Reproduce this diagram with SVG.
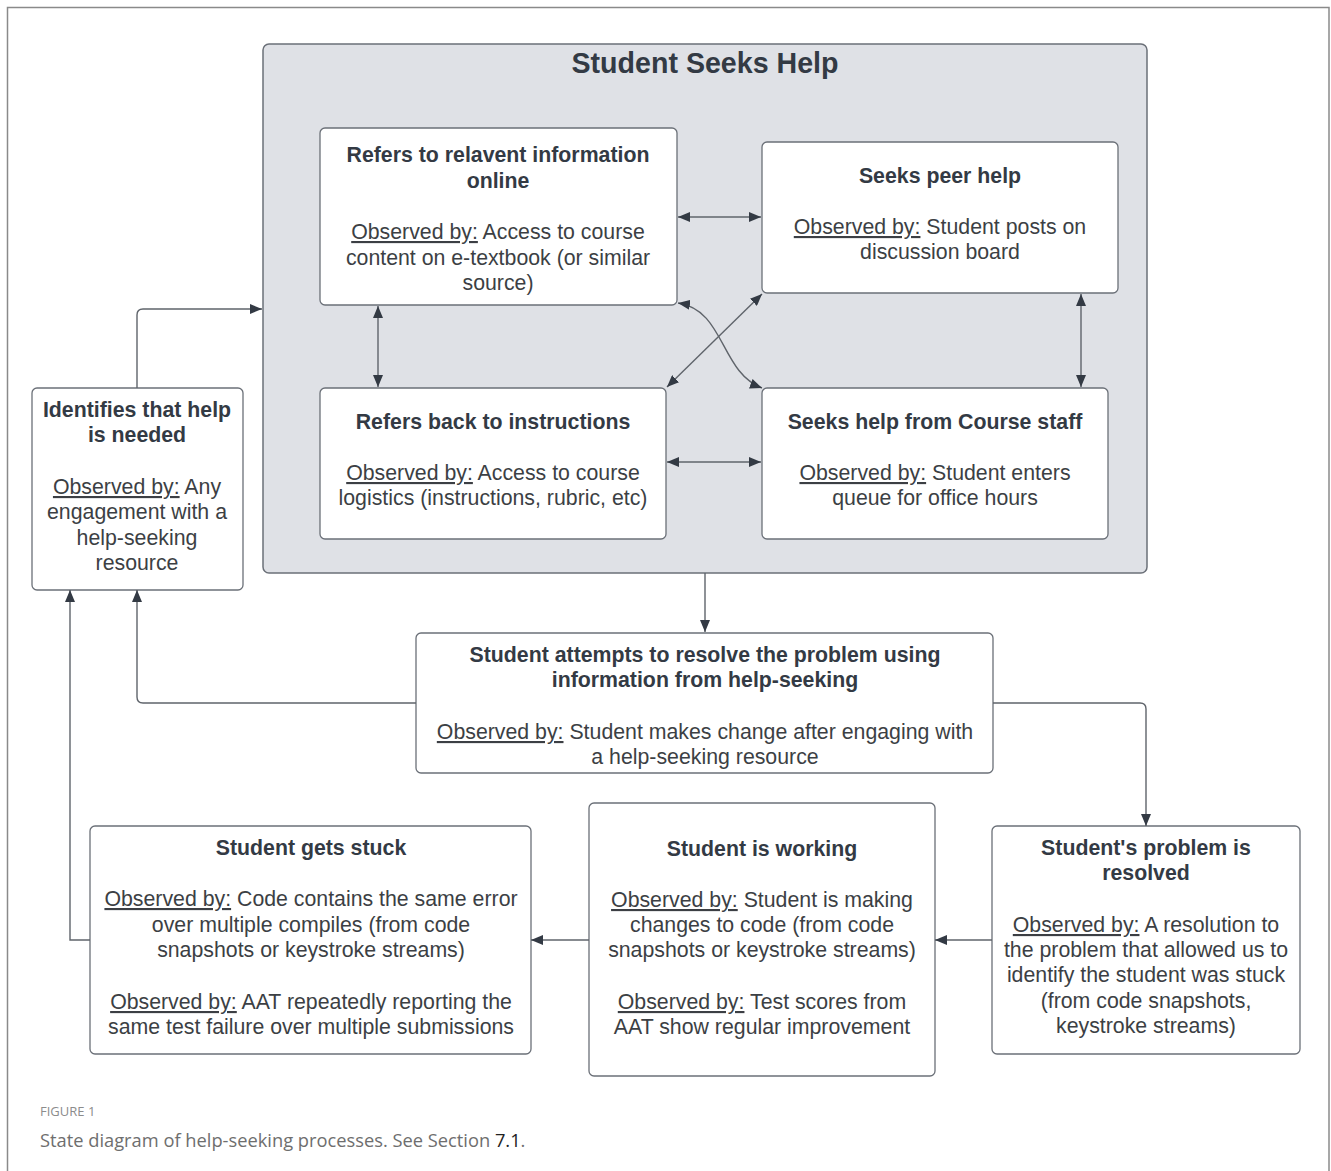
<svg xmlns="http://www.w3.org/2000/svg" width="1331" height="1171" viewBox="0 0 1331 1171">
<defs>
<marker id="ah" viewBox="0 0 12 10" refX="12" refY="5" markerWidth="12" markerHeight="10" markerUnits="userSpaceOnUse" orient="auto-start-reverse">
<path d="M0,0 L12,5 L0,10 z" fill="#333a44"/>
</marker>
<style>
.box{fill:#ffffff;stroke:#6b7078;stroke-width:1.3}
.grp{fill:#dfe1e6;stroke:#6b7078;stroke-width:1.5}
.t{font-family:"Liberation Sans",Arial,sans-serif;font-size:21.3px;fill:#3c3f44;text-anchor:middle}
.b{font-weight:bold;fill:#333a44}
.h{font-size:28.6px}
.u{text-decoration:underline}
.c{fill:none;stroke:#5f646b;stroke-width:1.4}
</style>
</defs>
<rect x="0" y="0" width="1331" height="1171" fill="#ffffff"/>
<path d="M7.5,1171 V7.5 H1329 V1171" fill="none" stroke="#8a8a8a" stroke-width="1.5"/>

<g id="student-seeks-help">
<rect class="grp" x="263" y="44" width="884" height="529" rx="6"/>
<text class="t b h" x="705" y="73">Student Seeks Help</text>
</g>

<g id="refers-online">
<rect class="box" x="320" y="128" width="357" height="177" rx="5"/>
<text class="t b" x="498" y="162">Refers to relavent information</text>
<text class="t b" x="498" y="188">online</text>
<text class="t" x="498" y="239"><tspan class="u">Observed by:</tspan> Access to course</text>
<text class="t" x="498" y="265">content on e-textbook (or similar</text>
<text class="t" x="498" y="290">source)</text>
</g>

<g id="seeks-peer-help">
<rect class="box" x="762" y="142" width="356" height="151" rx="5"/>
<text class="t b" x="940" y="183">Seeks peer help</text>
<text class="t" x="940" y="234"><tspan class="u">Observed by:</tspan> Student posts on</text>
<text class="t" x="940" y="259">discussion board</text>
</g>

<g id="refers-instructions">
<rect class="box" x="320" y="388" width="346" height="151" rx="5"/>
<text class="t b" x="493" y="429">Refers back to instructions</text>
<text class="t" x="493" y="480"><tspan class="u">Observed by:</tspan> Access to course</text>
<text class="t" x="493" y="505">logistics (instructions, rubric, etc)</text>
</g>

<g id="seeks-staff">
<rect class="box" x="762" y="388" width="346" height="151" rx="5"/>
<text class="t b" x="935" y="429">Seeks help from Course staff</text>
<text class="t" x="935" y="480"><tspan class="u">Observed by:</tspan> Student enters</text>
<text class="t" x="935" y="505">queue for office hours</text>
</g>

<g id="identifies">
<rect class="box" x="32" y="388" width="211" height="202" rx="5"/>
<text class="t b" x="137" y="417">Identifies that help</text>
<text class="t b" x="137" y="442">is needed</text>
<text class="t" x="137" y="494"><tspan class="u">Observed by:</tspan> Any</text>
<text class="t" x="137" y="519">engagement with a</text>
<text class="t" x="137" y="545">help-seeking</text>
<text class="t" x="137" y="570">resource</text>
</g>

<g id="attempts">
<rect class="box" x="416" y="633" width="577" height="140" rx="5"/>
<text class="t b" x="705" y="662">Student attempts to resolve the problem using</text>
<text class="t b" x="705" y="687">information from help-seeking</text>
<text class="t" x="705" y="739"><tspan class="u">Observed by:</tspan> Student makes change after engaging with</text>
<text class="t" x="705" y="764">a help-seeking resource</text>
</g>

<g id="resolved">
<rect class="box" x="992" y="826" width="308" height="228" rx="5"/>
<text class="t b" x="1146" y="855">Student's problem is</text>
<text class="t b" x="1146" y="880">resolved</text>
<text class="t" x="1146" y="932"><tspan class="u">Observed by:</tspan> A resolution to</text>
<text class="t" x="1146" y="957">the problem that allowed us to</text>
<text class="t" x="1146" y="982">identify the student was stuck</text>
<text class="t" x="1146" y="1008">(from code snapshots,</text>
<text class="t" x="1146" y="1033">keystroke streams)</text>
</g>

<g id="working">
<rect class="box" x="589" y="803" width="346" height="273" rx="5"/>
<text class="t b" x="762" y="856">Student is working</text>
<text class="t" x="762" y="907"><tspan class="u">Observed by:</tspan> Student is making</text>
<text class="t" x="762" y="932">changes to code (from code</text>
<text class="t" x="762" y="957">snapshots or keystroke streams)</text>
<text class="t" x="762" y="1009"><tspan class="u">Observed by:</tspan> Test scores from</text>
<text class="t" x="762" y="1034">AAT show regular improvement</text>
</g>

<g id="stuck">
<rect class="box" x="90" y="826" width="441" height="228" rx="5"/>
<text class="t b" x="311" y="855">Student gets stuck</text>
<text class="t" x="311" y="906"><tspan class="u">Observed by:</tspan> Code contains the same error</text>
<text class="t" x="311" y="932">over multiple compiles (from code</text>
<text class="t" x="311" y="957">snapshots or keystroke streams)</text>
<text class="t" x="311" y="1009"><tspan class="u">Observed by:</tspan> AAT repeatedly reporting the</text>
<text class="t" x="311" y="1034">same test failure over multiple submissions</text>
</g>

<g id="connectors">
<path class="c" d="M678,217 H761" marker-start="url(#ah)" marker-end="url(#ah)"/>
<path class="c" d="M378,306 V387" marker-start="url(#ah)" marker-end="url(#ah)"/>
<path class="c" d="M1081,294 V387" marker-start="url(#ah)" marker-end="url(#ah)"/>
<path class="c" d="M667,462 H761" marker-start="url(#ah)" marker-end="url(#ah)"/>
<path class="c" d="M762,294 L667,387" marker-start="url(#ah)" marker-end="url(#ah)"/>
<path class="c" d="M678,303 C725,310 720,372 762,388" marker-start="url(#ah)" marker-end="url(#ah)"/>
<path class="c" d="M705,573 V632" marker-end="url(#ah)"/>
<path class="c" d="M416,703 H143 Q137,703 137,697 V590" marker-end="url(#ah)"/>
<path class="c" d="M993,703 H1140 Q1146,703 1146,709 V826" marker-end="url(#ah)"/>
<path class="c" d="M992,940 H935" marker-end="url(#ah)"/>
<path class="c" d="M589,940 H531" marker-end="url(#ah)"/>
<path class="c" d="M90,940 H70 V590" marker-end="url(#ah)"/>
<path class="c" d="M137,388 V315 Q137,309 143,309 H262" marker-end="url(#ah)"/>
</g>

<g id="caption">
<text x="40" y="1116" font-family="'Open Sans',sans-serif" font-size="13" fill="#8c8c8c">FIGURE 1</text>
<text x="40" y="1147" font-family="'Open Sans',sans-serif" font-size="18.3" fill="#6e6e6e">State diagram of help-seeking processes. See Section <tspan fill="#222222">7.1</tspan>.</text>
</g>
</svg>
